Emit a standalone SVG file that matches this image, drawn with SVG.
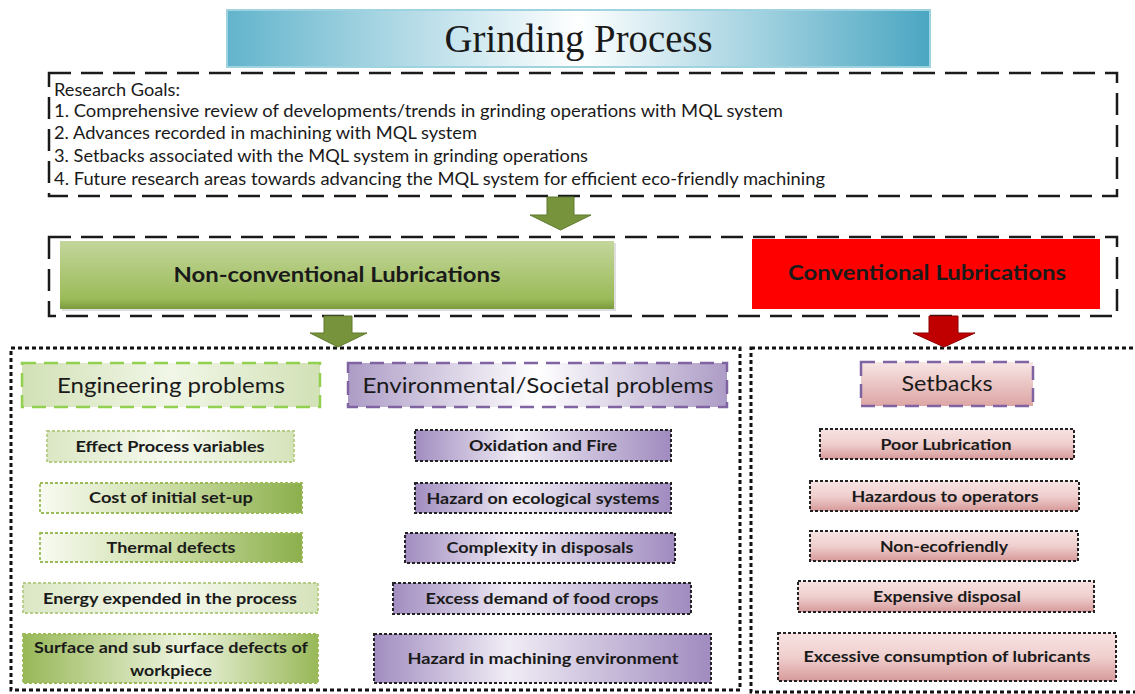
<svg xmlns="http://www.w3.org/2000/svg" width="1135" height="694" viewBox="0 0 1135 694">
<style>
text{font-family:Lato,"Open Sans","Liberation Sans",sans-serif;fill:#1a1a1a}
.title{font-family:"Liberation Serif","DejaVu Serif",serif;font-size:40px}
.goal{font-size:17px}
.main{font-size:21px;font-weight:700}
.hdr{font-size:22px}
.item{font-size:16px;font-weight:700}
.dash{fill:none;stroke:#1a1a1a;stroke-width:2.5;stroke-dasharray:22 10}
.dot{fill:none;stroke:#111;stroke-width:3;stroke-dasharray:4 3}
.gi{stroke:#9bbb59;stroke-width:1.8;stroke-dasharray:3 2}
.gip{stroke:#b5cc86;stroke-width:1.8;stroke-dasharray:3 2}
.pi{stroke:#222;stroke-width:2;stroke-dasharray:3 2}
</style>
<defs>
<linearGradient id="gTitle" x1="0" y1="0" x2="1" y2="0">
<stop offset="0" stop-color="#62b4cc"/><stop offset="0.5" stop-color="#ffffff"/><stop offset="1" stop-color="#4aa6c2"/>
</linearGradient>
<linearGradient id="gNon" x1="0" y1="0" x2="0" y2="1">
<stop offset="0" stop-color="#c3d69b"/><stop offset="0.85" stop-color="#9bbb59"/><stop offset="1" stop-color="#7a9a3e"/>
</linearGradient>
<linearGradient id="gEngH" x1="0" y1="0" x2="1" y2="0">
<stop offset="0" stop-color="#d2e1b6"/><stop offset="0.5" stop-color="#f1f6e7"/><stop offset="1" stop-color="#d2e1b6"/>
</linearGradient>
<linearGradient id="gEnvH" x1="0" y1="0" x2="1" y2="0">
<stop offset="0" stop-color="#ad9cc6"/><stop offset="0.5" stop-color="#ffffff"/><stop offset="1" stop-color="#ad9cc6"/>
</linearGradient>
<linearGradient id="gSetH" x1="0" y1="0" x2="0" y2="1">
<stop offset="0" stop-color="#f8e6e5"/><stop offset="1" stop-color="#dca5a4"/>
</linearGradient>
<linearGradient id="gPale" x1="0" y1="0" x2="1" y2="0">
<stop offset="0" stop-color="#dbe7c4"/><stop offset="0.5" stop-color="#f6f9ef"/><stop offset="1" stop-color="#d5e3ba"/>
</linearGradient>
<linearGradient id="gRamp" x1="0" y1="0" x2="1" y2="0">
<stop offset="0" stop-color="#f8fbf2"/><stop offset="0.5" stop-color="#cadcA3"/><stop offset="1" stop-color="#8caf4c"/>
</linearGradient>
<linearGradient id="gSurf" x1="0" y1="0" x2="1" y2="0">
<stop offset="0" stop-color="#98b858"/><stop offset="0.55" stop-color="#eef4e0"/><stop offset="1" stop-color="#98b858"/>
</linearGradient>
<linearGradient id="gPur" x1="0" y1="0" x2="1" y2="0">
<stop offset="0" stop-color="#a18dc0"/><stop offset="0.4" stop-color="#f0ecf5"/><stop offset="1" stop-color="#a08bbf"/>
</linearGradient>
<linearGradient id="gPink" x1="0" y1="0" x2="0" y2="1">
<stop offset="0" stop-color="#f7e3e2"/><stop offset="0.5" stop-color="#efcfce"/><stop offset="1" stop-color="#d79a9a"/>
</linearGradient>
</defs>

<g id="title">
<rect x="227" y="10" width="703" height="57" fill="url(#gTitle)" stroke="#9fd3e0" stroke-width="2"/>
<text class="title" x="578.5" y="52" text-anchor="middle" textLength="268" lengthAdjust="spacingAndGlyphs">Grinding Process</text>
</g>

<g id="research-goals">
<rect class="dash" x="49" y="73" width="1068" height="123"/>
<text class="goal" x="54" y="96" textLength="126" lengthAdjust="spacingAndGlyphs">Research Goals:</text>
<text class="goal" x="54" y="117" textLength="729" lengthAdjust="spacingAndGlyphs">1. Comprehensive review of developments/trends in grinding operations with MQL system</text>
<text class="goal" x="54" y="139" textLength="423" lengthAdjust="spacingAndGlyphs">2. Advances recorded in machining with MQL system</text>
<text class="goal" x="54" y="162" textLength="534" lengthAdjust="spacingAndGlyphs">3. Setbacks associated with the MQL system in grinding operations</text>
<text class="goal" x="54" y="185" textLength="771" lengthAdjust="spacingAndGlyphs">4. Future research areas towards advancing the MQL system for efficient eco-friendly machining</text>
</g>

<g id="lubrications">
<rect class="dash" x="49" y="237" width="1068" height="79"/>
</g>

<g id="non-conventional">
<rect x="62" y="243" width="554" height="68" fill="#c8c8c8" opacity="0.6"/>
<rect x="60" y="241" width="554" height="68" fill="url(#gNon)"/>
<text class="main" x="337" y="282" text-anchor="middle" textLength="327" lengthAdjust="spacingAndGlyphs">Non-conventional Lubrications</text>
</g>

<g id="conventional">
<rect x="752" y="239" width="348" height="70" fill="#ff0000"/>
<text class="main" x="927" y="280" text-anchor="middle" textLength="278" lengthAdjust="spacingAndGlyphs">Conventional Lubrications</text>
</g>

<g id="non-conventional-panel">
<rect class="dot" x="11" y="348" width="729" height="342"/>
</g>
<g id="conventional-panel">
<rect class="dot" x="751" y="348" width="420" height="344"/>
</g>

<g id="connectors">
<path d="M547,197 H574 V215 H591 L560.5,230 L530,215 H547 Z" fill="#77933c" stroke="#5f7a2c" stroke-width="1"/>
<path d="M324,316 H352 V333 H367 L338,347 L310,333 H324 Z" fill="#77933c" stroke="#5f7a2c" stroke-width="1"/>
<path d="M929,316 H958 V333 H975 L944,347 L913,333 H929 Z" fill="#c00000" stroke="#8c0000" stroke-width="1"/>
</g>

<g id="engineering-problems">
<rect x="22" y="363" width="298" height="44" fill="url(#gEngH)" stroke="#92d050" stroke-width="2.5" stroke-dasharray="14 8"/>
<text class="hdr" x="171" y="393" text-anchor="middle" textLength="228" lengthAdjust="spacingAndGlyphs">Engineering problems</text>
</g>
<g id="environmental-problems">
<rect x="348" y="363" width="379" height="44" fill="url(#gEnvH)" stroke="#8064a2" stroke-width="2.5" stroke-dasharray="14 8"/>
<text class="hdr" x="538" y="393" text-anchor="middle" textLength="351" lengthAdjust="spacingAndGlyphs">Environmental/Societal problems</text>
</g>
<g id="setbacks">
<rect x="861" y="362" width="172" height="44" fill="url(#gSetH)" stroke="#8064a2" stroke-width="2.5" stroke-dasharray="14 8"/>
<text class="hdr" x="947" y="391" text-anchor="middle" textLength="91" lengthAdjust="spacingAndGlyphs">Setbacks</text>
</g>

<g id="effect-process-variables">
<rect class="gip" x="47" y="431" width="247" height="31" fill="url(#gPale)"/>
<text class="item" x="170" y="452" text-anchor="middle" textLength="189" lengthAdjust="spacingAndGlyphs">Effect Process variables</text>
</g>
<g id="cost-initial-setup">
<rect class="gi" x="40" y="483" width="262" height="30" fill="url(#gRamp)"/>
<text class="item" x="171" y="503" text-anchor="middle" textLength="164" lengthAdjust="spacingAndGlyphs">Cost of initial set-up</text>
</g>
<g id="thermal-defects">
<rect class="gi" x="40" y="533" width="262" height="29" fill="url(#gRamp)"/>
<text class="item" x="171" y="553" text-anchor="middle" textLength="129" lengthAdjust="spacingAndGlyphs">Thermal defects</text>
</g>
<g id="energy-expended">
<rect class="gip" x="23" y="583" width="295" height="30" fill="url(#gPale)"/>
<text class="item" x="170" y="604" text-anchor="middle" textLength="254" lengthAdjust="spacingAndGlyphs">Energy expended in the process</text>
</g>
<g id="surface-defects">
<rect class="gi" x="23" y="634" width="295" height="49" fill="url(#gSurf)"/>
<text class="item" x="171" y="653" text-anchor="middle" textLength="274" lengthAdjust="spacingAndGlyphs">Surface and sub surface defects of</text>
<text class="item" x="171" y="676" text-anchor="middle" textLength="82" lengthAdjust="spacingAndGlyphs">workpiece</text>
</g>

<g id="oxidation-fire">
<rect class="pi" x="415" y="430" width="256" height="31" fill="url(#gPur)"/>
<text class="item" x="543" y="451" text-anchor="middle" textLength="148" lengthAdjust="spacingAndGlyphs">Oxidation and Fire</text>
</g>
<g id="hazard-ecological">
<rect class="pi" x="415" y="483" width="256" height="30" fill="url(#gPur)"/>
<text class="item" x="543" y="504" text-anchor="middle" textLength="233" lengthAdjust="spacingAndGlyphs">Hazard on ecological systems</text>
</g>
<g id="complexity-disposals">
<rect class="pi" x="405" y="533" width="270" height="30" fill="url(#gPur)"/>
<text class="item" x="540" y="553" text-anchor="middle" textLength="187" lengthAdjust="spacingAndGlyphs">Complexity in disposals</text>
</g>
<g id="excess-demand">
<rect class="pi" x="393" y="583" width="298" height="31" fill="url(#gPur)"/>
<text class="item" x="542" y="604" text-anchor="middle" textLength="233" lengthAdjust="spacingAndGlyphs">Excess demand of food crops</text>
</g>
<g id="hazard-machining">
<rect class="pi" x="374" y="634" width="337" height="49" fill="url(#gPur)"/>
<text class="item" x="543" y="664" text-anchor="middle" textLength="271" lengthAdjust="spacingAndGlyphs">Hazard in machining environment</text>
</g>

<g id="poor-lubrication">
<rect class="pi" x="820" y="429" width="254" height="30" fill="url(#gPink)"/>
<text class="item" x="946" y="450" text-anchor="middle" textLength="131" lengthAdjust="spacingAndGlyphs">Poor Lubrication</text>
</g>
<g id="hazardous-operators">
<rect class="pi" x="810" y="481" width="269" height="30" fill="url(#gPink)"/>
<text class="item" x="945" y="502" text-anchor="middle" textLength="187" lengthAdjust="spacingAndGlyphs">Hazardous to operators</text>
</g>
<g id="non-ecofriendly">
<rect class="pi" x="810" y="531" width="268" height="30" fill="url(#gPink)"/>
<text class="item" x="944" y="552" text-anchor="middle" textLength="128" lengthAdjust="spacingAndGlyphs">Non-ecofriendly</text>
</g>
<g id="expensive-disposal">
<rect class="pi" x="798" y="581" width="296" height="31" fill="url(#gPink)"/>
<text class="item" x="947" y="602" text-anchor="middle" textLength="148" lengthAdjust="spacingAndGlyphs">Expensive disposal</text>
</g>
<g id="excessive-consumption">
<rect class="pi" x="778" y="633" width="338" height="48" fill="url(#gPink)"/>
<text class="item" x="947" y="662" text-anchor="middle" textLength="287" lengthAdjust="spacingAndGlyphs">Excessive consumption of lubricants</text>
</g>
</svg>
